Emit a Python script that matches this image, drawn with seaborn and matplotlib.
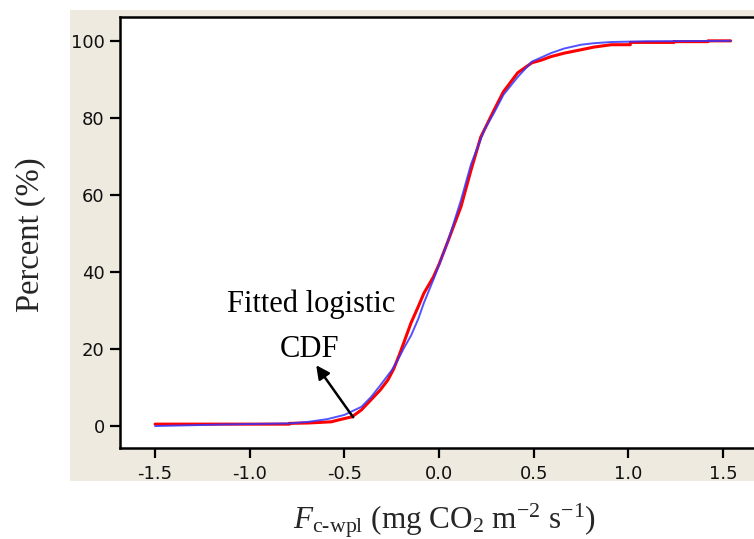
import matplotlib
matplotlib.use("Agg")
import matplotlib.pyplot as plt
import seaborn as sns
import pandas as pd
from matplotlib.patches import Rectangle

# Empirical CDF of the WPL-corrected CO2 flux (percent)
flux_emp = [-1.50, -1.11, -0.79, -0.79, -0.69, -0.57, -0.53, -0.46, -0.41, -0.36,
            -0.31, -0.27, -0.24, -0.21, -0.185, -0.148, -0.11, -0.08, -0.03, 0.0, 0.047,
            0.116, 0.169, 0.22, 0.26, 0.29, 0.34, 0.415, 0.49, 0.54, 0.59,
            0.66, 0.75, 0.82, 0.91, 1.01, 1.01, 1.24, 1.24, 1.42, 1.42, 1.54]
pct_emp = [0.5, 0.5, 0.5, 0.7, 0.8, 1.1, 1.6, 2.4, 4.2, 6.8,
           9.4, 12.0, 14.8, 18.5, 21.8, 26.8, 31.0, 34.5, 38.7, 42.0, 48.0,
           57.0, 66.5, 75.0, 79.0, 82.0, 86.8, 91.7, 94.3, 95.0, 95.9,
           96.8, 97.7, 98.4, 99.0, 99.0, 99.6, 99.6, 99.8, 99.8, 100.0, 100.0]

# Fitted logistic CDF (percent)
flux_fit = [-1.50, -1.15, -0.79, -0.69, -0.59, -0.50, -0.41, -0.36, -0.31, -0.25,
            -0.22, -0.185, -0.148, -0.11, -0.08, -0.03, 0.047, 0.116, 0.169, 0.24,
            0.29, 0.34, 0.415, 0.49, 0.59, 0.66, 0.75, 0.82, 0.91, 1.10, 1.54]
pct_fit = [0.0, 0.4, 0.7, 1.1, 1.8, 2.9, 5.0, 7.5, 10.6, 14.5,
           17.0, 20.3, 23.5, 27.8, 32.0, 38.0, 48.0, 58.7, 68.0, 77.0,
           81.3, 86.0, 90.6, 94.6, 96.8, 98.0, 99.0, 99.4, 99.7, 99.9, 100.0]

x_ticks = [-1.5, -1.0, -0.5, 0.0, 0.5, 1.0, 1.5]
y_ticks = [0, 20, 40, 60, 80, 100]

sns.set_theme(style="white")
plt.rcParams["font.family"] = ["DejaVu Sans"]
plt.rcParams["axes.unicode_minus"] = False
plt.rcParams["mathtext.fontset"] = "custom"
plt.rcParams["mathtext.rm"] = "Liberation Serif"
plt.rcParams["mathtext.it"] = "Liberation Serif:italic"

emp = pd.DataFrame({"flux": flux_emp, "pct": pct_emp})
fit = pd.DataFrame({"flux": flux_fit, "pct": pct_fit})

fig = plt.figure(figsize=(7.54, 5.39), dpi=100, facecolor="white")
# beige panel behind the axes
fig.patches.append(Rectangle((0.0928, 0.1076), 0.91, 0.874, transform=fig.transFigure,
                             facecolor="#EEEAE0", edgecolor="none", zorder=-10))
ax = fig.add_axes([0.1592, 0.1688, 0.846, 0.7997])
ax.set_zorder(1)
ax.set_facecolor("white")

sns.lineplot(data=emp, x="flux", y="pct", ax=ax, color="#FF0000", lw=2.2,
             estimator=None, sort=False)
sns.lineplot(data=fit, x="flux", y="pct", ax=ax, color="#3434FF", lw=1.4,
             alpha=0.85, estimator=None, sort=False)

ax.set_xlim(-1.685, 1.684)
ax.set_ylim(-5.7, 106.2)
ax.set_xticks(x_ticks)
ax.set_xticklabels([f"{t:.1f}" for t in x_ticks])
ax.set_yticks(y_ticks)
ax.set_yticklabels([str(t) for t in y_ticks])
ax.set_xlabel("")
ax.set_ylabel("")
for s in ax.spines.values():
    s.set_color("black")
    s.set_linewidth(1.8)
ax.tick_params(axis="both", direction="out", length=7, width=1.6, color="black",
               labelsize=13, labelcolor="#111111", bottom=True, left=True)
ax.tick_params(axis="x", pad=5)
ax.tick_params(axis="y", pad=4)

serif = "Liberation Serif"
ax.text(-0.676, 29.6, "Fitted logistic", family=serif, fontsize=22,
        ha="center", va="baseline", color="black")
ax.text(-0.686, 17.9, "CDF", family=serif, fontsize=22,
        ha="center", va="baseline", color="black")
ax.annotate("", xy=(-0.649, 15.8), xytext=(-0.454, 2.3),
            arrowprops=dict(arrowstyle="-|>", color="black", lw=1.8,
                            mutation_scale=20, shrinkA=0, shrinkB=0))

fig.text(0.040, 0.564, "Percent (%)", family=serif, fontsize=23.5,
         rotation=90, ha="center", va="center")
fig.text(0.590, 0.019,
         r"$F_{\mathrm{c\text{-}wpl}}$ (mg CO$_2$ m$^{-2}$ s$^{-1}$)",
         family=serif, fontsize=22.5, ha="center", va="baseline")

fig.savefig("out.png", dpi=100, facecolor="white")
